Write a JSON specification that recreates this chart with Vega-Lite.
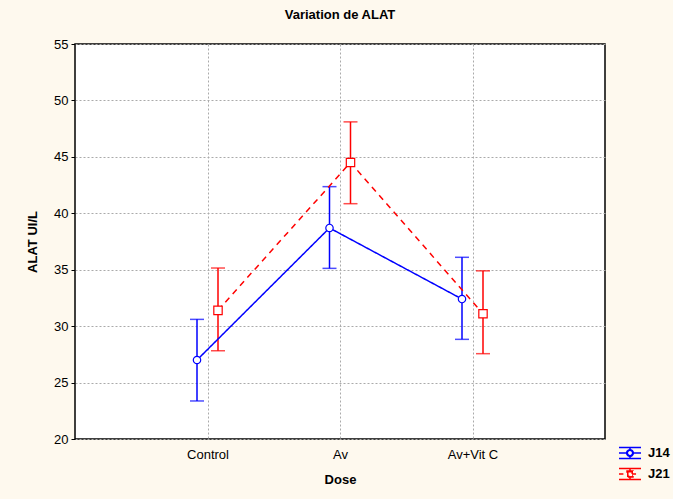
{
  "$schema": "https://vega.github.io/schema/vega-lite/v6.json",
  "autosize": {"type": "none"},
  "width": 530,
  "height": 395,
  "padding": {"left": 75, "top": 44, "right": 68, "bottom": 60},
  "background": "#FEF9EE",
  "title": {"text": "Variation de ALAT", "fontSize": 13, "font": "Liberation Sans", "fontWeight": "bold", "color": "#000", "anchor": "middle", "frame": "group", "offset": 16},
  "config": {
    "view": {"stroke": "#000", "strokeWidth": 1.5, "fill": "white"},
    "axis": {"labelFont": "Liberation Sans", "titleFont": "Liberation Sans", "labelFontSize": 13, "titleFontSize": 13, "labelColor": "#000", "titleColor": "#000", "titleFontWeight": "bold", "gridColor": "#aaaaaa", "gridDash": [2, 2], "gridWidth": 1, "domain": false},
    "legend": {"labelFont": "Liberation Sans", "labelFontSize": 13, "labelFontWeight": "bold", "labelColor": "#000", "symbolStrokeWidth": 1.5, "symbolFillColor": "white", "rowPadding": -8, "labelOffset": 6, "symbolSize": 484}
  },
  "data": {"values": [
    {"dose": "Control", "series": "J14", "mean": 27.0, "lo": 23.37, "hi": 30.6},
    {"dose": "Control", "series": "J21", "mean": 31.4, "lo": 27.82, "hi": 35.15},
    {"dose": "Av", "series": "J14", "mean": 38.7, "lo": 35.12, "hi": 42.36},
    {"dose": "Av", "series": "J21", "mean": 44.5, "lo": 40.85, "hi": 48.1},
    {"dose": "Av+Vit C", "series": "J14", "mean": 32.4, "lo": 28.83, "hi": 36.1},
    {"dose": "Av+Vit C", "series": "J21", "mean": 31.1, "lo": 27.56, "hi": 34.9}
  ]},
  "encoding": {
    "x": {"field": "dose", "type": "nominal", "sort": ["Control", "Av", "Av+Vit C"],
      "scale": {"type": "point", "padding": 1},
      "axis": {"title": "Dose", "labelAngle": 0, "ticks": false, "labelPadding": 9, "titlePadding": 12, "grid": true}},
    "xOffset": {"field": "series", "type": "nominal", "scale": {"type": "point", "domain": ["J14", "J21"], "range": [-10.5, 10.5], "padding": 0}},
    "color": {"field": "series", "type": "nominal", "scale": {"domain": ["J14", "J21"], "range": ["#0000FF", "#FF0000"]},
      "legend": {"title": null, "orient": "none", "legendX": 543, "legendY": 397, "symbolSize": 484, "symbolFillColor": "white"}}
  },
  "layer": [
    {"transform": [{"filter": "datum.mean < 0"}],
     "mark": {"type": "point", "size": 484, "filled": false, "fill": "white", "strokeWidth": 1.5, "opacity": 1},
     "encoding": {
       "y": {"field": "mean", "type": "quantitative", "scale": {"domain": [20, 55], "nice": false, "zero": false},
         "axis": {"title": "ALAT  UI/L", "values": [20, 25, 30, 35, 40, 45, 50, 55], "tickSize": 4, "tickColor": "#000", "labelPadding": 3, "titlePadding": 14, "grid": true}},
       "shape": {"field": "series", "type": "nominal",
         "scale": {"domain": ["J14", "J21"], "range": [
           "M-1,-0.5H-0.5M-0.5,-0.5H0M0,-0.5H0.5M0.5,-0.5H1M-1,0.5H-0.5M-0.5,0.5H0M0,0.5H0.5M0.5,0.5H1M-1,0H-0.5M-0.5,0H-0.3M0.3,0H0.5M0.5,0H1M0,-0.5V-0.3M0,0.3V0.5M0.3,0A0.3,0.3 0 1,0 -0.3,0A0.3,0.3 0 1,0 0.3,0ZM0.24,0A0.24,0.24 0 1,1 -0.24,0A0.24,0.24 0 1,1 0.24,0Z",
           "M-1,-0.5H-0.5M-0.5,-0.5H0M0,-0.5H0.5M0.5,-0.5H1M-1,0.5H-0.5M-0.5,0.5H0M0,0.5H0.5M0.5,0.5H1M-1,0H-0.6M0.27,0H0.55M0,-0.5V-0.27M0,0.27V0.5M-0.27,-0.27H0.27V0.27H-0.27ZM-0.2,-0.2V0.2H0.2V-0.2Z"]},
         "legend": {"title": null, "orient": "none", "legendX": 543, "legendY": 397, "symbolSize": 484, "symbolFillColor": "white"}}}},
    {"mark": {"type": "rule", "strokeWidth": 1.5},
     "encoding": {"y": {"field": "lo", "type": "quantitative"}, "y2": {"field": "hi"}}},
    {"mark": {"type": "tick", "size": 14, "thickness": 1.5, "orient": "horizontal"},
     "encoding": {"y": {"field": "lo", "type": "quantitative"}}},
    {"mark": {"type": "tick", "size": 14, "thickness": 1.5, "orient": "horizontal"},
     "encoding": {"y": {"field": "hi", "type": "quantitative"}}},
    {"mark": {"type": "line", "strokeWidth": 1.5},
     "encoding": {
       "y": {"field": "mean", "type": "quantitative"},
       "strokeDash": {"field": "series", "type": "nominal", "scale": {"domain": ["J14", "J21"], "range": [[1, 0], [6, 5]]}, "legend": null}}},
    {"transform": [{"filter": "datum.series === 'J14'"}],
     "mark": {"type": "point", "shape": "circle", "size": 55, "filled": false, "fill": "white", "strokeWidth": 1.2, "opacity": 1},
     "encoding": {"y": {"field": "mean", "type": "quantitative"}}},
    {"transform": [{"filter": "datum.series === 'J21'"}],
     "mark": {"type": "point", "shape": "square", "size": 70, "filled": false, "fill": "white", "strokeWidth": 1.2, "opacity": 1},
     "encoding": {"y": {"field": "mean", "type": "quantitative"}}}
  ]
}
